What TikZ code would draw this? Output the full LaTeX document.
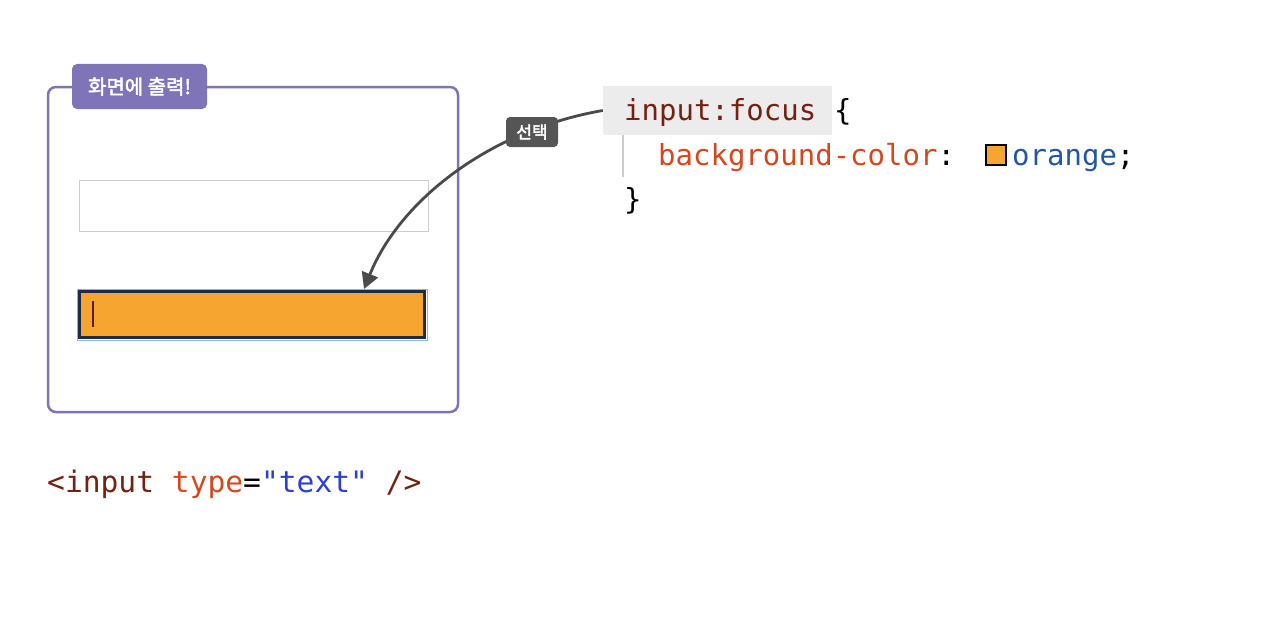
\documentclass[tikz,border=0pt]{standalone}
\usepackage{fontspec}
\usetikzlibrary{arrows.meta}
\newfontfamily\codefont{DejaVu Sans Mono}
\newfontfamily\krfont{Noto Sans CJK KR}[FakeBold=2.2]
\definecolor{boxpurple}{HTML}{7F73B5}
\definecolor{tagpurple}{HTML}{8074B8}
\definecolor{selred}{HTML}{742012}
\definecolor{propred}{HTML}{D2491E}
\definecolor{valblue}{HTML}{22579C}
\definecolor{strblue}{HTML}{2B40D2}
\definecolor{inorange}{HTML}{F7A531}
\definecolor{inborder}{HTML}{1D2B48}
\definecolor{inglow}{HTML}{8DB4E2}
\definecolor{hlgray}{HTML}{ECECEC}
\definecolor{arrowgray}{HTML}{4A4A4A}
\definecolor{labelgray}{HTML}{555555}
\tikzset{
  code/.style={font=\codefont\fontsize{29}{35}\selectfont, inner sep=0pt, anchor=base west},
  htmlcode/.style={font=\codefont\fontsize{29.6}{35}\selectfont, inner sep=0pt, anchor=base west},
  tagbox/.style={fill=tagpurple, rounded corners=5pt, text=white, font=\krfont\fontsize{20}{23}\selectfont, inner sep=0pt},
  lblbox/.style={fill=labelgray, rounded corners=4pt, text=white, font=\krfont\fontsize{17}{20}\selectfont, inner sep=0pt},
  conn/.style={draw=arrowgray, line width=2.8pt, -{Triangle[length=16pt,width=17pt]}},
}
\begin{document}
\begin{tikzpicture}[x=1pt,y=-1pt]
\useasboundingbox (0,0) rectangle (1268,626);
% output frame
\node[draw=boxpurple, line width=2.5pt, rounded corners=8pt, minimum width=410pt, minimum height=325pt, inner sep=0pt] (frame) at (253,249.5) {};
\node[tagbox, minimum width=135pt, minimum height=45pt] (tag) at (139.5,86.5) {화면에 출력!};
% inputs
\node[draw=black!20, line width=1pt, minimum width=349pt, minimum height=51pt, inner sep=0pt] (inp1) at (253.5,205.5) {};
\node[draw=inglow, line width=1pt, minimum width=350pt, minimum height=51pt, inner sep=0pt] (inglowbox) at (252,314.5) {};
\node[fill=inorange, draw=inborder, line width=3pt, minimum width=345pt, minimum height=46pt, inner sep=0pt] (inp2) at (252,314.5) {};
\draw[color=selred!80!black, line width=1.2pt] (93,301) -- (93,327);
% css
\node[fill=hlgray, minimum width=229pt, minimum height=49pt, inner sep=0pt] (sel) at (717.5,110.5) {};
\node[code, text=selred] (seltext) at (624,120) {input:focus};
\node[code] (brace1) at (834,120) {\{};
\draw[black!20, line width=1.5pt] (623,135) -- (623,177);
\node[code, text=propred] (prop) at (658,165) {background-color\textcolor{black}{:}};
\node[fill=inorange, draw=black, line width=2pt, minimum width=20pt, minimum height=20pt, inner sep=0pt] (swatch) at (995.5,154.5) {};
\node[code, text=valblue] (val) at (1012,165) {orange\textcolor{black}{;}};
\node[code] (brace2) at (624,209) {\}};
% html
\node[htmlcode] (html) at (47,492) {\textcolor{selred}{<input} \textcolor{propred}{type}=\textcolor{strblue}{"text"} \textcolor{selred}{/>}};
% arrow
\coordinate (tip) at (364,289);
\draw[conn] (sel.west) .. controls (490,130) and (400,200) .. (tip);
\node[lblbox, minimum width=52pt, minimum height=30pt] (lbl) at (532,132) {선택};
\end{tikzpicture}
\end{document}
